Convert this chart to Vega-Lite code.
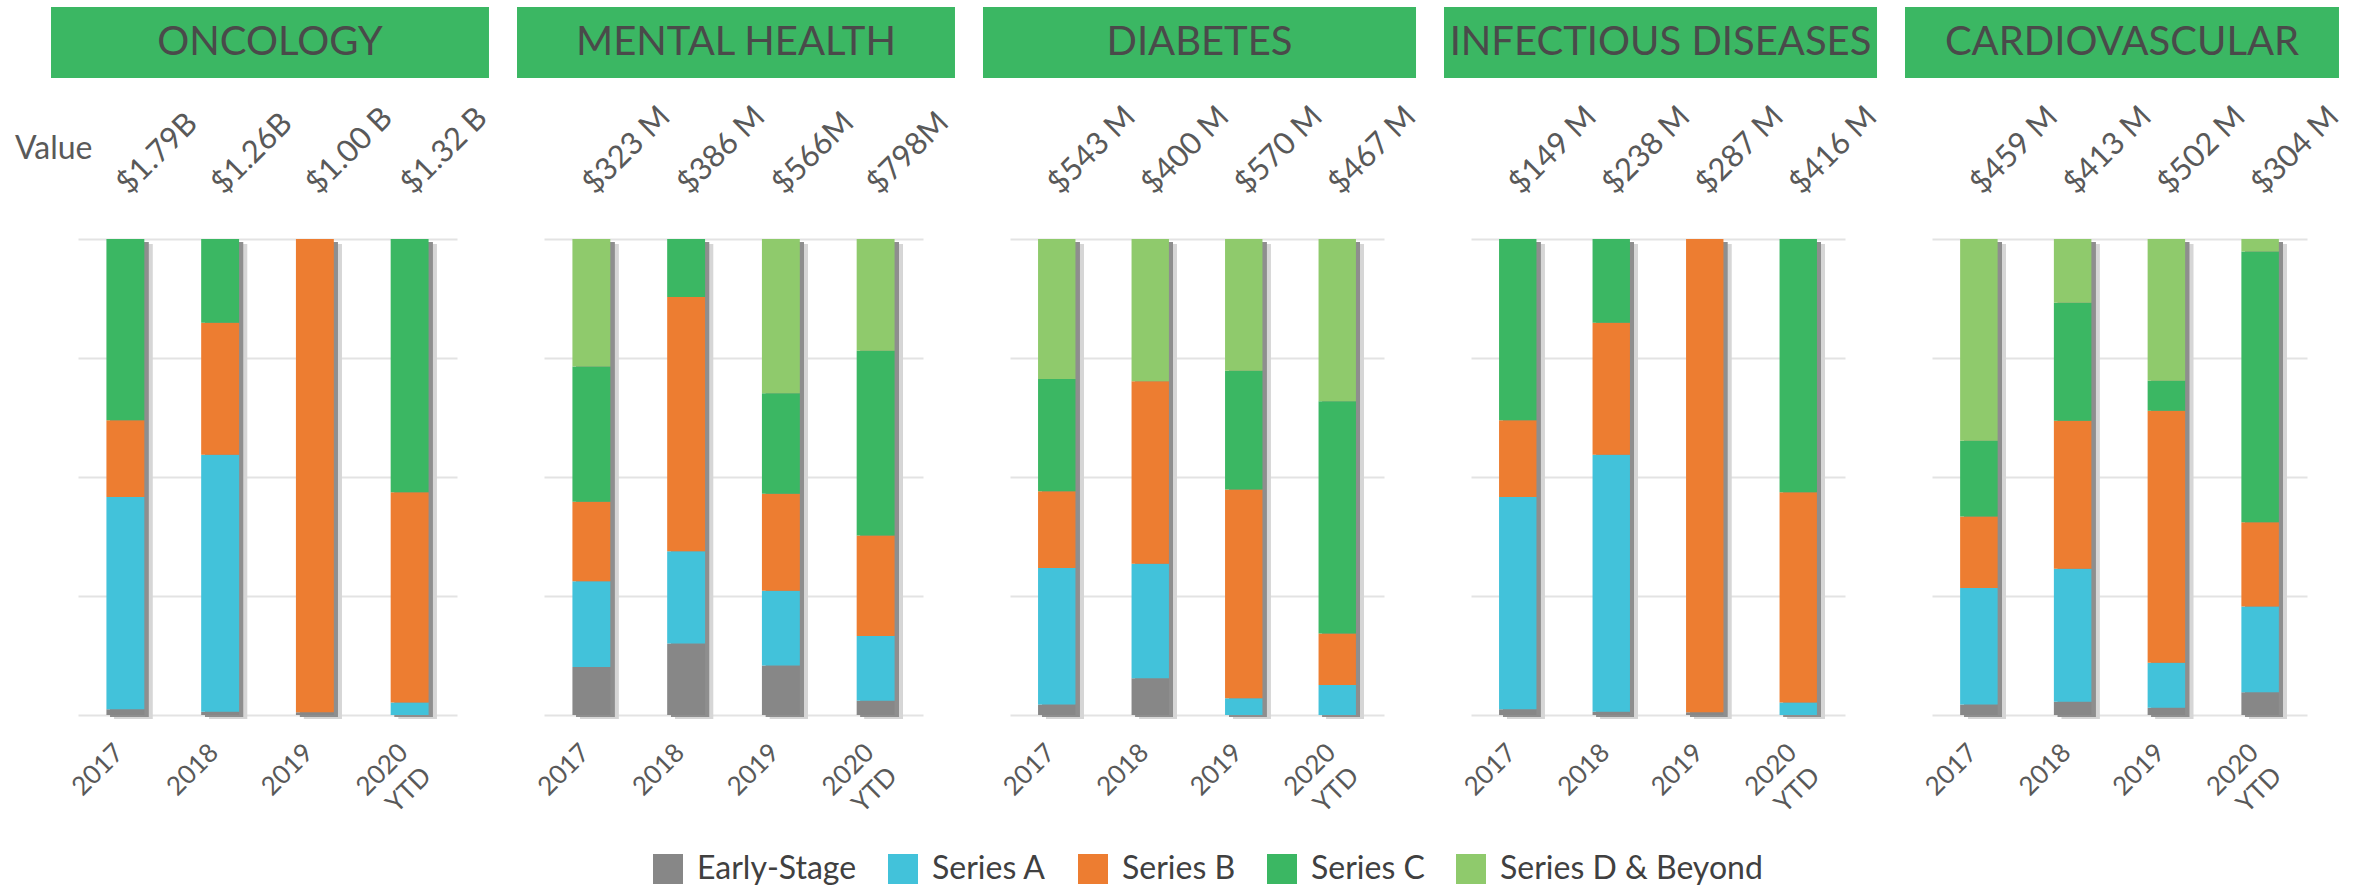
{
  "$schema": "https://vega.github.io/schema/vega-lite/v6.json",
  "background": "white",
  "padding": {"left": 14, "top": 7, "right": 5, "bottom": 5},
  "config": {"font": "Lato", "view": {"stroke": null}},
  "datasets": {
    "bars": [
      {"area": "ONCOLOGY", "year": "2017", "stage": "Early-Stage", "share": 1.2},
      {"area": "ONCOLOGY", "year": "2017", "stage": "Series A", "share": 44.6},
      {"area": "ONCOLOGY", "year": "2017", "stage": "Series B", "share": 16.1},
      {"area": "ONCOLOGY", "year": "2017", "stage": "Series C", "share": 38.1},
      {"area": "ONCOLOGY", "year": "2018", "stage": "Early-Stage", "share": 0.7},
      {"area": "ONCOLOGY", "year": "2018", "stage": "Series A", "share": 54.0},
      {"area": "ONCOLOGY", "year": "2018", "stage": "Series B", "share": 27.7},
      {"area": "ONCOLOGY", "year": "2018", "stage": "Series C", "share": 17.6},
      {"area": "ONCOLOGY", "year": "2019", "stage": "Early-Stage", "share": 0.6},
      {"area": "ONCOLOGY", "year": "2019", "stage": "Series B", "share": 99.4},
      {"area": "ONCOLOGY", "year": "2020 YTD", "stage": "Series A", "share": 2.6},
      {"area": "ONCOLOGY", "year": "2020 YTD", "stage": "Series B", "share": 44.2},
      {"area": "ONCOLOGY", "year": "2020 YTD", "stage": "Series C", "share": 53.2},

      {"area": "MENTAL HEALTH", "year": "2017", "stage": "Early-Stage", "share": 10.1},
      {"area": "MENTAL HEALTH", "year": "2017", "stage": "Series A", "share": 18.0},
      {"area": "MENTAL HEALTH", "year": "2017", "stage": "Series B", "share": 16.7},
      {"area": "MENTAL HEALTH", "year": "2017", "stage": "Series C", "share": 28.4},
      {"area": "MENTAL HEALTH", "year": "2017", "stage": "Series D & Beyond", "share": 26.8},
      {"area": "MENTAL HEALTH", "year": "2018", "stage": "Early-Stage", "share": 15.0},
      {"area": "MENTAL HEALTH", "year": "2018", "stage": "Series A", "share": 19.4},
      {"area": "MENTAL HEALTH", "year": "2018", "stage": "Series B", "share": 53.4},
      {"area": "MENTAL HEALTH", "year": "2018", "stage": "Series C", "share": 12.2},
      {"area": "MENTAL HEALTH", "year": "2019", "stage": "Early-Stage", "share": 10.4},
      {"area": "MENTAL HEALTH", "year": "2019", "stage": "Series A", "share": 15.7},
      {"area": "MENTAL HEALTH", "year": "2019", "stage": "Series B", "share": 20.4},
      {"area": "MENTAL HEALTH", "year": "2019", "stage": "Series C", "share": 21.1},
      {"area": "MENTAL HEALTH", "year": "2019", "stage": "Series D & Beyond", "share": 32.4},
      {"area": "MENTAL HEALTH", "year": "2020 YTD", "stage": "Early-Stage", "share": 3.0},
      {"area": "MENTAL HEALTH", "year": "2020 YTD", "stage": "Series A", "share": 13.6},
      {"area": "MENTAL HEALTH", "year": "2020 YTD", "stage": "Series B", "share": 21.1},
      {"area": "MENTAL HEALTH", "year": "2020 YTD", "stage": "Series C", "share": 38.8},
      {"area": "MENTAL HEALTH", "year": "2020 YTD", "stage": "Series D & Beyond", "share": 23.5},

      {"area": "DIABETES", "year": "2017", "stage": "Early-Stage", "share": 2.2},
      {"area": "DIABETES", "year": "2017", "stage": "Series A", "share": 28.7},
      {"area": "DIABETES", "year": "2017", "stage": "Series B", "share": 16.1},
      {"area": "DIABETES", "year": "2017", "stage": "Series C", "share": 23.6},
      {"area": "DIABETES", "year": "2017", "stage": "Series D & Beyond", "share": 29.4},
      {"area": "DIABETES", "year": "2018", "stage": "Early-Stage", "share": 7.7},
      {"area": "DIABETES", "year": "2018", "stage": "Series A", "share": 24.1},
      {"area": "DIABETES", "year": "2018", "stage": "Series B", "share": 38.3},
      {"area": "DIABETES", "year": "2018", "stage": "Series D & Beyond", "share": 29.9},
      {"area": "DIABETES", "year": "2019", "stage": "Series A", "share": 3.5},
      {"area": "DIABETES", "year": "2019", "stage": "Series B", "share": 43.9},
      {"area": "DIABETES", "year": "2019", "stage": "Series C", "share": 24.9},
      {"area": "DIABETES", "year": "2019", "stage": "Series D & Beyond", "share": 27.7},
      {"area": "DIABETES", "year": "2020 YTD", "stage": "Series A", "share": 6.3},
      {"area": "DIABETES", "year": "2020 YTD", "stage": "Series B", "share": 10.8},
      {"area": "DIABETES", "year": "2020 YTD", "stage": "Series C", "share": 48.8},
      {"area": "DIABETES", "year": "2020 YTD", "stage": "Series D & Beyond", "share": 34.1},

      {"area": "INFECTIOUS DISEASES", "year": "2017", "stage": "Early-Stage", "share": 1.2},
      {"area": "INFECTIOUS DISEASES", "year": "2017", "stage": "Series A", "share": 44.6},
      {"area": "INFECTIOUS DISEASES", "year": "2017", "stage": "Series B", "share": 16.1},
      {"area": "INFECTIOUS DISEASES", "year": "2017", "stage": "Series C", "share": 38.1},
      {"area": "INFECTIOUS DISEASES", "year": "2018", "stage": "Early-Stage", "share": 0.7},
      {"area": "INFECTIOUS DISEASES", "year": "2018", "stage": "Series A", "share": 54.0},
      {"area": "INFECTIOUS DISEASES", "year": "2018", "stage": "Series B", "share": 27.7},
      {"area": "INFECTIOUS DISEASES", "year": "2018", "stage": "Series C", "share": 17.6},
      {"area": "INFECTIOUS DISEASES", "year": "2019", "stage": "Early-Stage", "share": 0.6},
      {"area": "INFECTIOUS DISEASES", "year": "2019", "stage": "Series B", "share": 99.4},
      {"area": "INFECTIOUS DISEASES", "year": "2020 YTD", "stage": "Series A", "share": 2.6},
      {"area": "INFECTIOUS DISEASES", "year": "2020 YTD", "stage": "Series B", "share": 44.2},
      {"area": "INFECTIOUS DISEASES", "year": "2020 YTD", "stage": "Series C", "share": 53.2},

      {"area": "CARDIOVASCULAR", "year": "2017", "stage": "Early-Stage", "share": 2.2},
      {"area": "CARDIOVASCULAR", "year": "2017", "stage": "Series A", "share": 24.5},
      {"area": "CARDIOVASCULAR", "year": "2017", "stage": "Series B", "share": 15.0},
      {"area": "CARDIOVASCULAR", "year": "2017", "stage": "Series C", "share": 15.9},
      {"area": "CARDIOVASCULAR", "year": "2017", "stage": "Series D & Beyond", "share": 42.4},
      {"area": "CARDIOVASCULAR", "year": "2018", "stage": "Early-Stage", "share": 2.8},
      {"area": "CARDIOVASCULAR", "year": "2018", "stage": "Series A", "share": 27.9},
      {"area": "CARDIOVASCULAR", "year": "2018", "stage": "Series B", "share": 31.1},
      {"area": "CARDIOVASCULAR", "year": "2018", "stage": "Series C", "share": 24.8},
      {"area": "CARDIOVASCULAR", "year": "2018", "stage": "Series D & Beyond", "share": 13.4},
      {"area": "CARDIOVASCULAR", "year": "2019", "stage": "Early-Stage", "share": 1.5},
      {"area": "CARDIOVASCULAR", "year": "2019", "stage": "Series A", "share": 9.5},
      {"area": "CARDIOVASCULAR", "year": "2019", "stage": "Series B", "share": 52.9},
      {"area": "CARDIOVASCULAR", "year": "2019", "stage": "Series C", "share": 6.3},
      {"area": "CARDIOVASCULAR", "year": "2019", "stage": "Series D & Beyond", "share": 29.8},
      {"area": "CARDIOVASCULAR", "year": "2020 YTD", "stage": "Early-Stage", "share": 4.8},
      {"area": "CARDIOVASCULAR", "year": "2020 YTD", "stage": "Series A", "share": 18.0},
      {"area": "CARDIOVASCULAR", "year": "2020 YTD", "stage": "Series B", "share": 17.7},
      {"area": "CARDIOVASCULAR", "year": "2020 YTD", "stage": "Series C", "share": 56.9},
      {"area": "CARDIOVASCULAR", "year": "2020 YTD", "stage": "Series D & Beyond", "share": 2.6}
    ],
    "vals": [
      {"area": "ONCOLOGY", "year": "2017", "label": "$1.79B"},
      {"area": "ONCOLOGY", "year": "2018", "label": "$1.26B"},
      {"area": "ONCOLOGY", "year": "2019", "label": "$1.00 B"},
      {"area": "ONCOLOGY", "year": "2020 YTD", "label": "$1.32 B"},
      {"area": "MENTAL HEALTH", "year": "2017", "label": "$323 M"},
      {"area": "MENTAL HEALTH", "year": "2018", "label": "$386 M"},
      {"area": "MENTAL HEALTH", "year": "2019", "label": "$566M"},
      {"area": "MENTAL HEALTH", "year": "2020 YTD", "label": "$798M"},
      {"area": "DIABETES", "year": "2017", "label": "$543 M"},
      {"area": "DIABETES", "year": "2018", "label": "$400 M"},
      {"area": "DIABETES", "year": "2019", "label": "$570 M"},
      {"area": "DIABETES", "year": "2020 YTD", "label": "$467 M"},
      {"area": "INFECTIOUS DISEASES", "year": "2017", "label": "$149 M"},
      {"area": "INFECTIOUS DISEASES", "year": "2018", "label": "$238 M"},
      {"area": "INFECTIOUS DISEASES", "year": "2019", "label": "$287 M"},
      {"area": "INFECTIOUS DISEASES", "year": "2020 YTD", "label": "$416 M"},
      {"area": "CARDIOVASCULAR", "year": "2017", "label": "$459 M"},
      {"area": "CARDIOVASCULAR", "year": "2018", "label": "$413 M"},
      {"area": "CARDIOVASCULAR", "year": "2019", "label": "$502 M"},
      {"area": "CARDIOVASCULAR", "year": "2020 YTD", "label": "$304 M"}
    ]
  },
  "columns": 5,
  "spacing": {"row": 47, "column": 87},
  "bounds": "flush",
  "align": "each",
  "resolve": {"scale": {"color": "shared"}},
  "concat": [
    {"width": 379, "height": 71,
     "data": {"values": [{"t": "ONCOLOGY"}]},
     "layer": [
       {"mark": {"type": "rect", "color": "#3bb763"},
        "encoding": {"x": {"datum": -0.0712, "type": "quantitative", "scale": {"domain": [0, 1], "nice": false, "zero": false}, "axis": null}, "x2": {"datum": 1.0844}}},
       {"mark": {"type": "text", "font": "Lato", "fontSize": 40, "color": "#4a4a4a", "align": "center", "baseline": "middle"},
        "encoding": {"x": {"datum": 0.5066, "type": "quantitative"}, "text": {"field": "t"}}}
     ]},
    {"width": 379, "height": 71,
     "data": {"values": [{"t": "MENTAL HEALTH"}]},
     "layer": [
       {"mark": {"type": "rect", "color": "#3bb763"},
        "encoding": {"x": {"datum": -0.0712, "type": "quantitative", "scale": {"domain": [0, 1], "nice": false, "zero": false}, "axis": null}, "x2": {"datum": 1.0844}}},
       {"mark": {"type": "text", "font": "Lato", "fontSize": 40, "color": "#4a4a4a", "align": "center", "baseline": "middle"},
        "encoding": {"x": {"datum": 0.5066, "type": "quantitative"}, "text": {"field": "t"}}}
     ]},
    {"width": 374, "height": 71,
     "data": {"values": [{"t": "DIABETES"}]},
     "layer": [
       {"mark": {"type": "rect", "color": "#3bb763"},
        "encoding": {"x": {"datum": -0.0722, "type": "quantitative", "scale": {"domain": [0, 1], "nice": false, "zero": false}, "axis": null}, "x2": {"datum": 1.0856}}},
       {"mark": {"type": "text", "font": "Lato", "fontSize": 40, "color": "#4a4a4a", "align": "center", "baseline": "middle"},
        "encoding": {"x": {"datum": 0.5067, "type": "quantitative"}, "text": {"field": "t"}}}
     ]},
    {"width": 374, "height": 71,
     "data": {"values": [{"t": "INFECTIOUS DISEASES"}]},
     "layer": [
       {"mark": {"type": "rect", "color": "#3bb763"},
        "encoding": {"x": {"datum": -0.0722, "type": "quantitative", "scale": {"domain": [0, 1], "nice": false, "zero": false}, "axis": null}, "x2": {"datum": 1.0856}}},
       {"mark": {"type": "text", "font": "Lato", "fontSize": 40, "color": "#4a4a4a", "align": "center", "baseline": "middle"},
        "encoding": {"x": {"datum": 0.5067, "type": "quantitative"}, "text": {"field": "t"}}}
     ]},
    {"width": 375, "height": 71,
     "data": {"values": [{"t": "CARDIOVASCULAR"}]},
     "layer": [
       {"mark": {"type": "rect", "color": "#3bb763"},
        "encoding": {"x": {"datum": -0.072, "type": "quantitative", "scale": {"domain": [0, 1], "nice": false, "zero": false}, "axis": null}, "x2": {"datum": 1.0853}}},
       {"mark": {"type": "text", "font": "Lato", "fontSize": 40, "color": "#4a4a4a", "align": "center", "baseline": "middle"},
        "encoding": {"x": {"datum": 0.5067, "type": "quantitative"}, "text": {"field": "t"}}}
     ]},

    {"width": 379, "height": 67,
     "data": {"name": "vals"},
     "transform": [{"filter": "datum.area === 'ONCOLOGY'"}],
     "mark": {"type": "text", "font": "Lato", "fontSize": 31, "color": "#595959", "angle": -45, "align": "left", "baseline": "alphabetic", "dy": 5},
     "encoding": {
       "x": {"field": "year", "type": "nominal", "scale": {"paddingInner": 0.6, "paddingOuter": 0.3}, "axis": null},
       "y": {"datum": 0, "type": "quantitative", "scale": {"domain": [0, 1]},
         "axis": {"title": "Value", "titleAngle": 0, "titleAlign": "right", "titleBaseline": "middle", "titleX": 14, "titleY": 23, "titleFont": "Lato", "titleFontSize": 32, "titleFontWeight": "normal", "titleColor": "#595959", "labels": false, "ticks": false, "domain": false, "grid": false}},
       "text": {"field": "label"},
       "fontWeight": {"condition": {"test": "datum.year === '2020 YTD'", "value": "bold"}, "value": "normal"}}},
    {"width": 379, "height": 67,
     "data": {"name": "vals"},
     "transform": [{"filter": "datum.area === 'MENTAL HEALTH'"}],
     "mark": {"type": "text", "font": "Lato", "fontSize": 31, "color": "#595959", "angle": -45, "align": "left", "baseline": "alphabetic", "dy": 5},
     "encoding": {
       "x": {"field": "year", "type": "nominal", "scale": {"paddingInner": 0.6, "paddingOuter": 0.3}, "axis": null},
       "y": {"value": "height"},
       "text": {"field": "label"},
       "fontWeight": {"condition": {"test": "datum.year === '2020 YTD'", "value": "bold"}, "value": "normal"}}},
    {"width": 374, "height": 67,
     "data": {"name": "vals"},
     "transform": [{"filter": "datum.area === 'DIABETES'"}],
     "mark": {"type": "text", "font": "Lato", "fontSize": 31, "color": "#595959", "angle": -45, "align": "left", "baseline": "alphabetic", "dy": 5},
     "encoding": {
       "x": {"field": "year", "type": "nominal", "scale": {"paddingInner": 0.6, "paddingOuter": 0.3}, "axis": null},
       "y": {"value": "height"},
       "text": {"field": "label"},
       "fontWeight": {"condition": {"test": "datum.year === '2020 YTD'", "value": "bold"}, "value": "normal"}}},
    {"width": 374, "height": 67,
     "data": {"name": "vals"},
     "transform": [{"filter": "datum.area === 'INFECTIOUS DISEASES'"}],
     "mark": {"type": "text", "font": "Lato", "fontSize": 31, "color": "#595959", "angle": -45, "align": "left", "baseline": "alphabetic", "dy": 5},
     "encoding": {
       "x": {"field": "year", "type": "nominal", "scale": {"paddingInner": 0.6, "paddingOuter": 0.3}, "axis": null},
       "y": {"value": "height"},
       "text": {"field": "label"},
       "fontWeight": {"condition": {"test": "datum.year === '2020 YTD'", "value": "bold"}, "value": "normal"}}},
    {"width": 375, "height": 67,
     "data": {"name": "vals"},
     "transform": [{"filter": "datum.area === 'CARDIOVASCULAR'"}],
     "mark": {"type": "text", "font": "Lato", "fontSize": 31, "color": "#595959", "angle": -45, "align": "left", "baseline": "alphabetic", "dy": 5},
     "encoding": {
       "x": {"field": "year", "type": "nominal", "scale": {"paddingInner": 0.6, "paddingOuter": 0.3}, "axis": null},
       "y": {"value": "height"},
       "text": {"field": "label"},
       "fontWeight": {"condition": {"test": "datum.year === '2020 YTD'", "value": "bold"}, "value": "normal"}}},

    {"width": 379, "height": 476,
     "data": {"name": "bars"},
     "transform": [{"filter": "datum.area === 'ONCOLOGY'"}],
     "encoding": {"x": {"field": "year", "type": "nominal", "scale": {"paddingInner": 0.6, "paddingOuter": 0.3},
       "axis": {"title": null, "labelAngle": -45, "labelAlign": "right", "labelBaseline": "top", "labelOffset": -15, "labelPadding": 24, "ticks": false, "domain": false, "grid": false, "labelFont": "Lato", "labelFontSize": 26, "labelColor": "#595959", "labelExpr": "split(datum.label, ' ')", "labelLineHeight": 33, "labelOverlap": false, "labelBound": false}}},
     "layer": [
       {"mark": {"type": "bar", "color": "#d6d6d6", "xOffset": 8, "yOffset": 5, "y2Offset": 4},
        "encoding": {"y": {"datum": 1, "type": "quantitative", "title": null}, "y2": {"datum": 0}}},
       {"mark": {"type": "bar", "color": "#8e8e8e", "xOffset": 4, "yOffset": 3, "y2Offset": 2},
        "encoding": {"y": {"datum": 1, "type": "quantitative", "title": null}, "y2": {"datum": 0}}},
       {"mark": {"type": "bar"},
        "encoding": {
          "y": {"field": "share", "type": "quantitative", "stack": "normalize", "title": null, "axis": {"title": null, "values": [0, 0.25, 0.5, 0.75, 1], "labels": false, "ticks": false, "domain": false, "grid": true, "gridColor": "#e3e3e3", "gridWidth": 2}},
          "color": {"field": "stage", "type": "nominal", "scale": {"domain": ["Early-Stage", "Series A", "Series B", "Series C", "Series D & Beyond"], "range": ["#878787", "#42c2da", "#ed7d31", "#3bb763", "#8fca6c"]},
            "legend": {"title": null, "orient": "none", "legendX": 574, "legendY": 846, "direction": "horizontal", "symbolType": "square", "symbolSize": 900, "symbolStrokeWidth": 0, "labelFont": "Lato", "labelFontSize": 32, "labelColor": "#404040", "labelOffset": 13, "columnPadding": 30, "labelLimit": 500, "padding": 0}},
          "order": {"field": "stage", "type": "ordinal", "sort": "ascending"}}}
     ]},
    {"width": 379, "height": 476,
     "data": {"name": "bars"},
     "transform": [{"filter": "datum.area === 'MENTAL HEALTH'"}],
     "encoding": {"x": {"field": "year", "type": "nominal", "scale": {"paddingInner": 0.6, "paddingOuter": 0.3},
       "axis": {"title": null, "labelAngle": -45, "labelAlign": "right", "labelBaseline": "top", "labelOffset": -15, "labelPadding": 24, "ticks": false, "domain": false, "grid": false, "labelFont": "Lato", "labelFontSize": 26, "labelColor": "#595959", "labelExpr": "split(datum.label, ' ')", "labelLineHeight": 33, "labelOverlap": false, "labelBound": false}}},
     "layer": [
       {"mark": {"type": "bar", "color": "#d6d6d6", "xOffset": 8, "yOffset": 5, "y2Offset": 4},
        "encoding": {"y": {"datum": 1, "type": "quantitative", "title": null}, "y2": {"datum": 0}}},
       {"mark": {"type": "bar", "color": "#8e8e8e", "xOffset": 4, "yOffset": 3, "y2Offset": 2},
        "encoding": {"y": {"datum": 1, "type": "quantitative", "title": null}, "y2": {"datum": 0}}},
       {"mark": {"type": "bar"},
        "encoding": {
          "y": {"field": "share", "type": "quantitative", "stack": "normalize", "title": null, "axis": {"title": null, "values": [0, 0.25, 0.5, 0.75, 1], "labels": false, "ticks": false, "domain": false, "grid": true, "gridColor": "#e3e3e3", "gridWidth": 2}},
          "color": {"field": "stage", "type": "nominal", "scale": {"domain": ["Early-Stage", "Series A", "Series B", "Series C", "Series D & Beyond"], "range": ["#878787", "#42c2da", "#ed7d31", "#3bb763", "#8fca6c"]},
            "legend": {"title": null, "orient": "none", "legendX": 574, "legendY": 846, "direction": "horizontal", "symbolType": "square", "symbolSize": 900, "symbolStrokeWidth": 0, "labelFont": "Lato", "labelFontSize": 32, "labelColor": "#404040", "labelOffset": 13, "columnPadding": 30, "labelLimit": 500, "padding": 0}},
          "order": {"field": "stage", "type": "ordinal", "sort": "ascending"}}}
     ]},
    {"width": 374, "height": 476,
     "data": {"name": "bars"},
     "transform": [{"filter": "datum.area === 'DIABETES'"}],
     "encoding": {"x": {"field": "year", "type": "nominal", "scale": {"paddingInner": 0.6, "paddingOuter": 0.3},
       "axis": {"title": null, "labelAngle": -45, "labelAlign": "right", "labelBaseline": "top", "labelOffset": -15, "labelPadding": 24, "ticks": false, "domain": false, "grid": false, "labelFont": "Lato", "labelFontSize": 26, "labelColor": "#595959", "labelExpr": "split(datum.label, ' ')", "labelLineHeight": 33, "labelOverlap": false, "labelBound": false}}},
     "layer": [
       {"mark": {"type": "bar", "color": "#d6d6d6", "xOffset": 8, "yOffset": 5, "y2Offset": 4},
        "encoding": {"y": {"datum": 1, "type": "quantitative", "title": null}, "y2": {"datum": 0}}},
       {"mark": {"type": "bar", "color": "#8e8e8e", "xOffset": 4, "yOffset": 3, "y2Offset": 2},
        "encoding": {"y": {"datum": 1, "type": "quantitative", "title": null}, "y2": {"datum": 0}}},
       {"mark": {"type": "bar"},
        "encoding": {
          "y": {"field": "share", "type": "quantitative", "stack": "normalize", "title": null, "axis": {"title": null, "values": [0, 0.25, 0.5, 0.75, 1], "labels": false, "ticks": false, "domain": false, "grid": true, "gridColor": "#e3e3e3", "gridWidth": 2}},
          "color": {"field": "stage", "type": "nominal", "scale": {"domain": ["Early-Stage", "Series A", "Series B", "Series C", "Series D & Beyond"], "range": ["#878787", "#42c2da", "#ed7d31", "#3bb763", "#8fca6c"]},
            "legend": {"title": null, "orient": "none", "legendX": 574, "legendY": 846, "direction": "horizontal", "symbolType": "square", "symbolSize": 900, "symbolStrokeWidth": 0, "labelFont": "Lato", "labelFontSize": 32, "labelColor": "#404040", "labelOffset": 13, "columnPadding": 30, "labelLimit": 500, "padding": 0}},
          "order": {"field": "stage", "type": "ordinal", "sort": "ascending"}}}
     ]},
    {"width": 374, "height": 476,
     "data": {"name": "bars"},
     "transform": [{"filter": "datum.area === 'INFECTIOUS DISEASES'"}],
     "encoding": {"x": {"field": "year", "type": "nominal", "scale": {"paddingInner": 0.6, "paddingOuter": 0.3},
       "axis": {"title": null, "labelAngle": -45, "labelAlign": "right", "labelBaseline": "top", "labelOffset": -15, "labelPadding": 24, "ticks": false, "domain": false, "grid": false, "labelFont": "Lato", "labelFontSize": 26, "labelColor": "#595959", "labelExpr": "split(datum.label, ' ')", "labelLineHeight": 33, "labelOverlap": false, "labelBound": false}}},
     "layer": [
       {"mark": {"type": "bar", "color": "#d6d6d6", "xOffset": 8, "yOffset": 5, "y2Offset": 4},
        "encoding": {"y": {"datum": 1, "type": "quantitative", "title": null}, "y2": {"datum": 0}}},
       {"mark": {"type": "bar", "color": "#8e8e8e", "xOffset": 4, "yOffset": 3, "y2Offset": 2},
        "encoding": {"y": {"datum": 1, "type": "quantitative", "title": null}, "y2": {"datum": 0}}},
       {"mark": {"type": "bar"},
        "encoding": {
          "y": {"field": "share", "type": "quantitative", "stack": "normalize", "title": null, "axis": {"title": null, "values": [0, 0.25, 0.5, 0.75, 1], "labels": false, "ticks": false, "domain": false, "grid": true, "gridColor": "#e3e3e3", "gridWidth": 2}},
          "color": {"field": "stage", "type": "nominal", "scale": {"domain": ["Early-Stage", "Series A", "Series B", "Series C", "Series D & Beyond"], "range": ["#878787", "#42c2da", "#ed7d31", "#3bb763", "#8fca6c"]},
            "legend": {"title": null, "orient": "none", "legendX": 574, "legendY": 846, "direction": "horizontal", "symbolType": "square", "symbolSize": 900, "symbolStrokeWidth": 0, "labelFont": "Lato", "labelFontSize": 32, "labelColor": "#404040", "labelOffset": 13, "columnPadding": 30, "labelLimit": 500, "padding": 0}},
          "order": {"field": "stage", "type": "ordinal", "sort": "ascending"}}}
     ]},
    {"width": 375, "height": 476,
     "data": {"name": "bars"},
     "transform": [{"filter": "datum.area === 'CARDIOVASCULAR'"}],
     "encoding": {"x": {"field": "year", "type": "nominal", "scale": {"paddingInner": 0.6, "paddingOuter": 0.3},
       "axis": {"title": null, "labelAngle": -45, "labelAlign": "right", "labelBaseline": "top", "labelOffset": -15, "labelPadding": 24, "ticks": false, "domain": false, "grid": false, "labelFont": "Lato", "labelFontSize": 26, "labelColor": "#595959", "labelExpr": "split(datum.label, ' ')", "labelLineHeight": 33, "labelOverlap": false, "labelBound": false}}},
     "layer": [
       {"mark": {"type": "bar", "color": "#d6d6d6", "xOffset": 8, "yOffset": 5, "y2Offset": 4},
        "encoding": {"y": {"datum": 1, "type": "quantitative", "title": null}, "y2": {"datum": 0}}},
       {"mark": {"type": "bar", "color": "#8e8e8e", "xOffset": 4, "yOffset": 3, "y2Offset": 2},
        "encoding": {"y": {"datum": 1, "type": "quantitative", "title": null}, "y2": {"datum": 0}}},
       {"mark": {"type": "bar"},
        "encoding": {
          "y": {"field": "share", "type": "quantitative", "stack": "normalize", "title": null, "axis": {"title": null, "values": [0, 0.25, 0.5, 0.75, 1], "labels": false, "ticks": false, "domain": false, "grid": true, "gridColor": "#e3e3e3", "gridWidth": 2}},
          "color": {"field": "stage", "type": "nominal", "scale": {"domain": ["Early-Stage", "Series A", "Series B", "Series C", "Series D & Beyond"], "range": ["#878787", "#42c2da", "#ed7d31", "#3bb763", "#8fca6c"]},
            "legend": {"title": null, "orient": "none", "legendX": 574, "legendY": 846, "direction": "horizontal", "symbolType": "square", "symbolSize": 900, "symbolStrokeWidth": 0, "labelFont": "Lato", "labelFontSize": 32, "labelColor": "#404040", "labelOffset": 13, "columnPadding": 30, "labelLimit": 500, "padding": 0}},
          "order": {"field": "stage", "type": "ordinal", "sort": "ascending"}}}
     ]}
  ]
}
